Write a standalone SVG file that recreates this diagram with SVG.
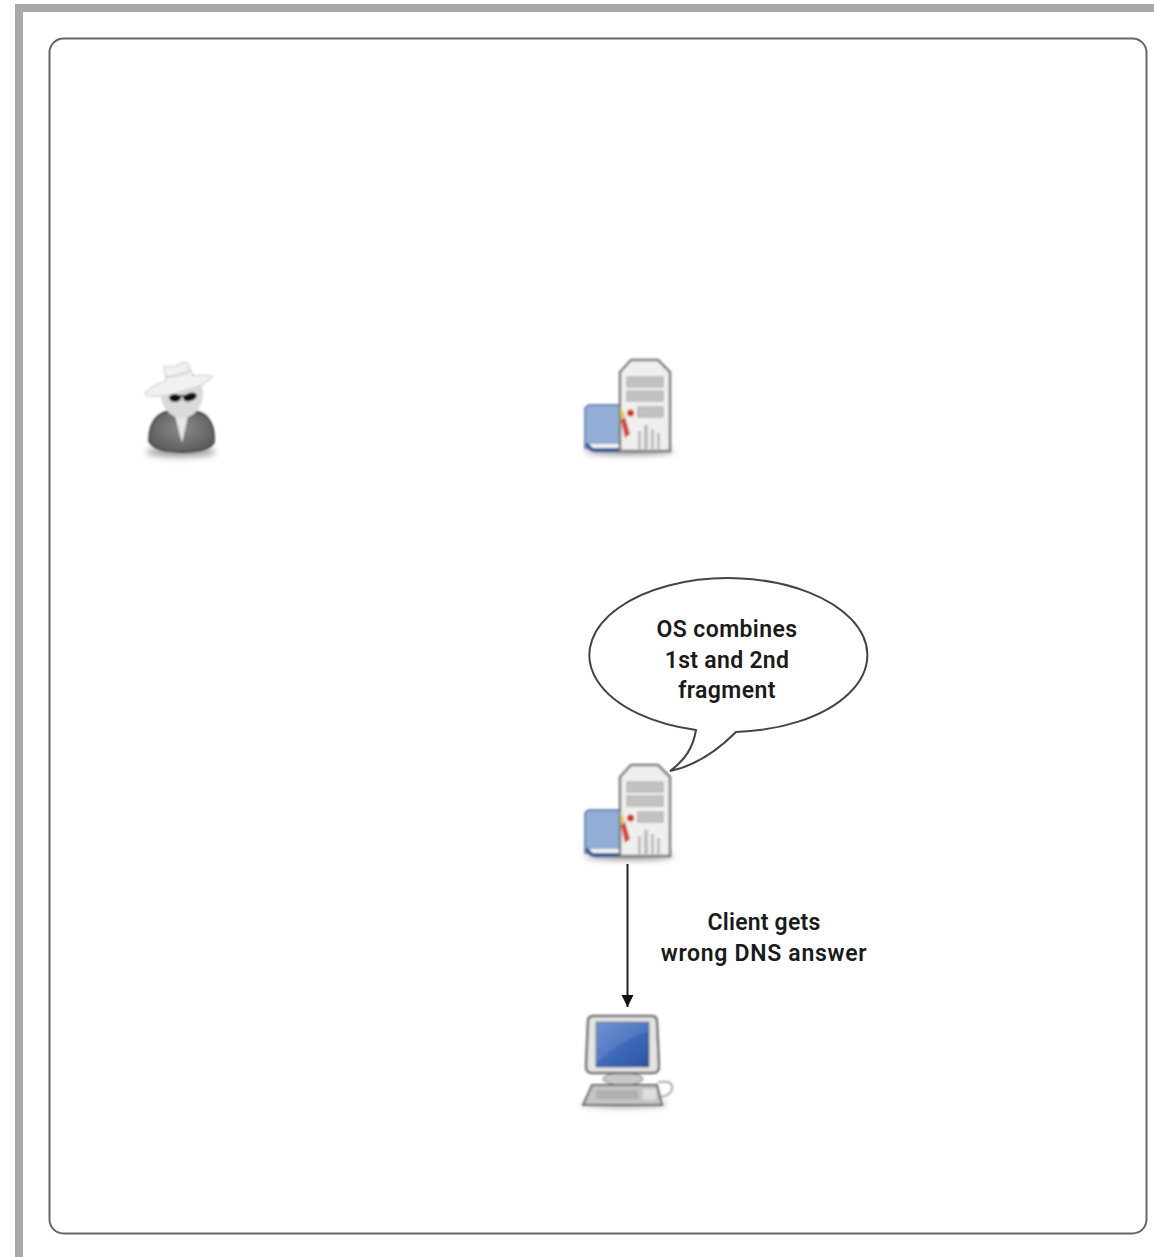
<svg xmlns="http://www.w3.org/2000/svg" width="1154" height="1257" viewBox="0 0 1154 1257">
<style>
.t{font-family:"Roboto","Liberation Sans",sans-serif;font-weight:600;font-size:23px;fill:#1a1a1a;text-anchor:middle}
.ln{fill:#fff;stroke:#444;stroke-width:2}
</style>
<defs>
<filter id="b" x="-20%" y="-20%" width="140%" height="140%"><feGaussianBlur stdDeviation="0.9"/></filter>
<filter id="s" x="-30%" y="-200%" width="160%" height="500%"><feGaussianBlur stdDeviation="3"/></filter>
<marker id="ah" markerUnits="userSpaceOnUse" markerWidth="13" markerHeight="13" refX="12" refY="6.5" orient="auto"><path d="M0 0.5L12 6.5L0 12.5z" fill="#111"/></marker>
<linearGradient id="scr" x1="0" y1="0" x2="1" y2="1"><stop offset="0" stop-color="#5f86d0"/><stop offset="0.55" stop-color="#3c68b8"/><stop offset="1" stop-color="#2f55a4"/></linearGradient>
<radialGradient id="coat" cx="0.5" cy="0.45" r="0.6"><stop offset="0" stop-color="#8a8a8a"/><stop offset="1" stop-color="#5a5a5a"/></radialGradient>
<g id="srv" filter="url(#b)">
<ellipse cx="629" cy="451" rx="45" ry="3.500" fill="#888" filter="url(#s)"/>
<path d="M585 409Q586 405 591 405H622V448H585z" fill="#92aed6" stroke="#6f88b4" stroke-width="2"/>
<path d="M585 444Q588 452 596 452H624V448H598Q591 449 589 443z" fill="#3d5a96"/>
<path d="M589 444H622V448H593z" fill="#f2f2f0"/>
<path d="M620 372L631 360H658L670 372V451H620z" fill="#efefed" stroke="#7c7c7c" stroke-width="2.500"/>
<rect x="627" y="377" width="36" height="10" fill="#c2c2c2" stroke="#a8a8a8"/>
<rect x="627" y="391" width="36" height="10" fill="#c2c2c2" stroke="#a8a8a8"/>
<rect x="638" y="407" width="25" height="10" fill="#c2c2c2" stroke="#a8a8a8"/>
<circle cx="630.500" cy="413" r="3.500" fill="#c9302c"/>
<path d="M638 431h3v18h-3zM644 425h4v24h-4zM651 429h3v20h-3zM657 433h3v16h-3z" fill="#bdbdbd"/>
<path d="M620 407L625 415L621 421z" fill="#e3c94a"/>
<path d="M621 420L625 417L630 434L625 438z" fill="#d2463c"/>
</g>
</defs>
<g id="frame">
<path d="M15 4H1154V12H23V1257H15z" fill="#aaaaaa"/>
<rect x="49.500" y="38.500" width="1097" height="1195" rx="14" fill="#fff" stroke="#666" stroke-width="2"/>
</g>
<g id="attacker" filter="url(#b)">
<ellipse cx="181" cy="452" rx="35" ry="5" fill="#999" filter="url(#s)"/>
<path d="M149 441Q149 424 158 416Q168 409 181 409Q197 409 207 417Q215 426 214 442Q210 452 181 452Q154 452 149 441z" fill="url(#coat)" stroke="#444" stroke-width="1.800"/>
<path d="M175 416L188 416L182 443z" fill="#e6e6e6"/>
<ellipse cx="182" cy="394" rx="21" ry="24" fill="#dadada"/>
<path d="M145 393Q152 385 166 381L164 367Q170 366 176 366Q184 360 188 364L193 376Q204 374 213 376Q205 386 188 389Q165 398 150 396Q146 396 145 393z" fill="#f1f1f1" stroke="#cfcfcf" stroke-width="1.200"/>
<path d="M166 377Q178 376 190 371" fill="none" stroke="#d4d4d4" stroke-width="2"/>
<ellipse cx="175" cy="398" rx="6" ry="4" fill="#111"/>
<ellipse cx="190" cy="397" rx="7" ry="4" fill="#111" transform="rotate(-18 190 397)"/>
<path d="M179 396L186 396" stroke="#111" stroke-width="2"/>
</g>
<g id="resolver-top"><use href="#srv"/></g>
<g id="resolver-bottom"><use href="#srv" y="405"/></g>
<g id="client" filter="url(#b)">
<ellipse cx="625" cy="1104" rx="42" ry="3" fill="#999" filter="url(#s)"/>
<path d="M658 1082Q674 1080 672 1089Q670 1096 660 1097" fill="none" stroke="#aaa" stroke-width="2"/>
<ellipse cx="623" cy="1079" rx="20" ry="6" fill="#c8c8c8" stroke="#7a7a7a"/>
<path d="M593 1016H652Q657 1016 657 1022L659 1066Q659 1073 653 1073H592Q586 1073 586 1066L588 1022Q588 1016 593 1016z" fill="#e4e4e2" stroke="#6f6f6f" stroke-width="2.500"/>
<rect x="596" y="1022" width="53" height="45" fill="url(#scr)" stroke="#4a4a4a" stroke-width=".6"/>
<path d="M596 1022H649V1032Q625 1036 596 1064z" fill="#fff" opacity=".1"/>
<path d="M592 1085H657L662 1105H583z" fill="#c4c4c4" stroke="#6a6a6a" stroke-width="2"/>
<rect x="596" y="1090" width="42" height="9" fill="#b0b0b0"/>
<rect x="643" y="1089" width="13" height="11" fill="#dedede"/>
</g>
<g id="connectors">
<path d="M627.500 864V1007" fill="none" stroke="#222" stroke-width="2" marker-end="url(#ah)"/>
</g>
<g id="bubble">
<path class="ln" d="M696 730A139 77 0 1 1 736 732C716 752 695 766 670 771C685 760 693 748 696 730z"/>
<text class="t" x="727" y="637" letter-spacing=".4">OS combines</text>
<text class="t" x="727" y="668" letter-spacing=".3">1st and 2nd</text>
<text class="t" x="727" y="698" letter-spacing=".4">fragment</text>
</g>
<g id="label">
<text class="t" x="764" y="930" letter-spacing=".2">Client gets</text>
<text class="t" x="764" y="961" letter-spacing=".7">wrong DNS answer</text>
</g>
</svg>
